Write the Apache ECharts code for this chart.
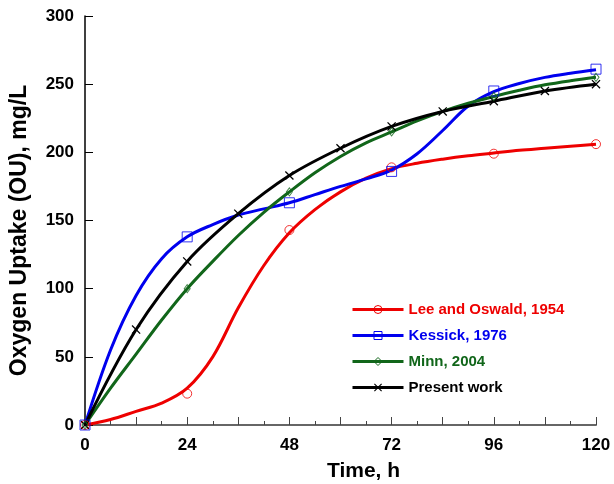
<!DOCTYPE html>
<html>
<head>
<meta charset="utf-8">
<script src="https://cdn.jsdelivr.net/npm/echarts@6/dist/echarts.min.js"></script>
<style>
  html, body { margin: 0; padding: 0; background: #fff; }
  #main { width: 614px; height: 484px; }
</style>
</head>
<body>
<div id="main"></div>
<script>
// time axis (h)
var fineHours = [0, 6, 12, 18, 24, 30, 36, 42, 48, 54, 60, 66, 72, 78, 84, 90, 96, 102, 108, 114, 120]
var markHours = [0, 24, 48, 72, 96, 120]
var presentHours = [0, 12, 24, 36, 48, 60, 72, 84, 96, 108, 120]

// fitted curves, every 6 h
var leeCurve = [0, 4, 10, 16, 27, 50, 86, 117, 141, 158, 171, 181, 188, 192, 195, 197.5, 199.5, 201.5, 203, 204.5, 206]
var kessickCurve = [0, 55, 95, 122, 138, 147, 154, 158.5, 163, 169, 175, 180.5, 187, 199, 216, 234, 244.5, 250.5, 255, 258, 260.5]
var minnCurve = [0, 27, 52, 77, 100, 120, 139, 156, 171, 185, 197, 207, 215, 223, 230, 236, 241, 245.5, 249.5, 252.5, 255]

// measured points
var leeObs = [0, 23, 143, 189, 199, 206]
var kessickObs = [0, 138, 163, 186, 245, 261]
var minnObs = [0, 100, 171, 215, 241, 255]
var presentObs = [0, 70, 120, 155, 183, 203, 219, 230, 237.5, 245, 250]

var names = ['Lee and Oswald, 1954', 'Kessick, 1976', 'Minn, 2004', 'Present work']
var colors = ['#ee0000', '#0000ee', '#11661a', '#000000']

var FONT = '"Liberation Sans", Arial, Helvetica, sans-serif'
var crossPath = 'path://M0,1L1,0L10,9L9,10ZM9,0L10,1L1,10L0,9Z'

function pairs(xs, ys) {
  return xs.map(function (x, i) { return [x, ys[i]] })
}

// curve only: points carry no symbol, series symbol is kept for the legend
function curve(name, color, xs, ys, symbol) {
  return {
    name: name,
    type: 'line',
    smooth: 0.35,
    symbol: symbol,
    symbolSize: 8,
    z: 2,
    lineStyle: { color: color, width: 3 },
    itemStyle: { color: 'transparent', borderColor: color, borderWidth: 1 },
    data: pairs(xs, ys).map(function (p) { return { value: p, symbol: 'none' } }),
    emphasis: { disabled: true },
    animation: false
  }
}

function points(name, color, xs, ys, symbol, size, filled) {
  return {
    name: name,
    type: 'scatter',
    symbol: symbol,
    symbolSize: size,
    clip: false,
    z: 3,
    itemStyle: filled ? { color: color } : { color: 'transparent', borderColor: color, borderWidth: 1 },
    data: pairs(xs, ys),
    animation: false
  }
}

var myChart = echarts.init(document.getElementById('main'))

var option = {
  backgroundColor: '#fff',
  textStyle: { fontFamily: FONT },
  grid: { left: 85, right: 18, top: 16, bottom: 59, containLabel: false, outerBoundsMode: 'none' },
  legend: {
    orient: 'vertical',
    left: 351,
    top: 302,
    padding: 0,
    itemWidth: 51,
    itemHeight: 10,
    itemGap: 11,
    selectedMode: false,
    textStyle: { fontFamily: FONT, fontSize: 15, fontWeight: 'bold' },
    data: names.map(function (n, i) {
      var st = i === 3
        ? { color: '#000' }
        : { color: 'transparent', borderColor: colors[i], borderWidth: 1 }
      return { name: n, itemStyle: st, lineStyle: { color: colors[i], width: 3 }, textStyle: { color: colors[i] } }
    })
  },
  xAxis: {
    type: 'value',
    min: 0,
    max: 120,
    interval: 12,
    name: 'Time, h',
    nameLocation: 'middle',
    nameGap: 36,
    nameTextStyle: { fontFamily: FONT, fontSize: 21, fontWeight: 'bold', color: '#000', padding: [0, 0, 0, 46] },
    axisLine: { lineStyle: { color: '#666', width: 2 } },
    axisTick: { inside: true, length: 8, lineStyle: { color: '#444', width: 1 } },
    minorTick: { show: true, splitNumber: 2, length: 4, lineStyle: { color: '#444', width: 1 } },
    splitLine: { show: false },
    axisLabel: {
      margin: 12,
      color: '#000',
      fontFamily: FONT,
      fontSize: 17,
      fontWeight: 'bold',
      formatter: function (v) { return v % 24 === 0 ? String(v) : '' }
    }
  },
  yAxis: {
    type: 'value',
    min: 0,
    max: 300,
    interval: 50,
    name: 'Oxygen Uptake (OU), mg/L',
    nameLocation: 'middle',
    nameGap: 54,
    nameTextStyle: { fontFamily: FONT, fontSize: 23, fontWeight: 'bold', color: '#000', padding: [0, 20, 0, 0] },
    axisLine: { show: true, lineStyle: { color: '#000', width: 1.5 } },
    axisTick: { inside: true, length: 8, lineStyle: { color: '#000', width: 1 } },
    splitLine: { show: false },
    axisLabel: { margin: 11, color: '#000', fontFamily: FONT, fontSize: 17, fontWeight: 'bold' }
  },
  series: [
    curve(names[0], colors[0], fineHours, leeCurve, 'circle'),
    curve(names[1], colors[1], fineHours, kessickCurve, 'rect'),
    curve(names[2], colors[2], fineHours, minnCurve, 'diamond'),
    {
      name: names[3],
      type: 'line',
      smooth: 0.35,
      symbol: crossPath,
      symbolSize: 9,
      showSymbol: true,
      clip: false,
      z: 3,
      lineStyle: { color: '#000', width: 3 },
      itemStyle: { color: '#000' },
      data: pairs(presentHours, presentObs),
      emphasis: { disabled: true },
      animation: false
    },
    points('lee-pts', colors[0], markHours, leeObs, 'circle', 9, false),
    points('kessick-pts', colors[1], markHours, kessickObs, 'rect', 10, false),
    points('minn-pts', colors[2], markHours, minnObs, 'diamond', [6, 8], false)
  ]
}
myChart.setOption(option)
</script>
</body>
</html>
